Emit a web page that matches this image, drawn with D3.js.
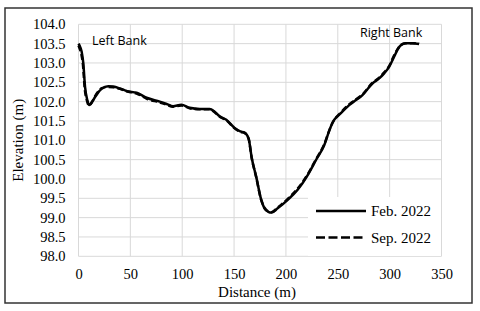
<!DOCTYPE html>
<html>
<head>
<meta charset="utf-8">
<script src="https://cdn.jsdelivr.net/npm/d3@7"></script>
<style>
body { margin: 0; background: #fff; }
svg text { fill: #000; }
</style>
</head>
<body>
<svg width="480" height="311"></svg>
<script>
// cross section survey, distance (m) vs elevation (m)
var febDist = [0, 1, 3, 4.6, 6.3, 8.5, 10.4, 13, 16, 19, 22.3, 28.7, 33.5, 40, 47, 56, 65.6, 78.4, 85, 91.2, 99.2, 107.2, 117, 126.4, 131.3, 136.1, 142.5, 150.5, 156, 160.1, 164, 167, 171.3, 176.2, 179.3, 183, 186, 192, 201.7, 211.3, 221, 229, 237, 241.8, 245, 253, 261, 267.5, 273.8, 283.4, 289.9, 294.7, 299.5, 304.3, 307.5, 310.8, 315.6, 322, 328.4];
var febElev = [103.5, 103.45, 103.3, 103.0, 102.38, 102.04, 101.91, 101.99, 102.12, 102.24, 102.33, 102.4, 102.39, 102.34, 102.27, 102.23, 102.1, 102.0, 101.94, 101.88, 101.92, 101.84, 101.81, 101.81, 101.74, 101.62, 101.53, 101.32, 101.23, 101.2, 101.05, 100.55, 100.06, 99.46, 99.24, 99.15, 99.13, 99.24, 99.46, 99.72, 100.1, 100.49, 100.88, 101.25, 101.46, 101.7, 101.91, 102.04, 102.17, 102.47, 102.6, 102.73, 102.9, 103.16, 103.34, 103.46, 103.51, 103.51, 103.49];

var sepDist = [0, 1, 2.8, 4.3, 6, 8.2, 10.2, 13, 16, 19, 22.5, 28.5, 33.5, 40, 47.5, 56, 65.5, 78, 85, 91, 99, 107, 117, 126.5, 131.5, 136.5, 142.5, 150.5, 156, 160, 164, 167, 171.3, 176, 179.5, 183, 186, 192, 201.5, 211, 221, 229, 237, 242, 245.5, 253, 261, 267.5, 274, 283.5, 290, 294.5, 299.5, 304, 307.5, 311, 315.5, 322, 328.4];
var sepElev = [103.45, 103.38, 103.22, 102.95, 102.34, 102.02, 101.9, 101.99, 102.14, 102.26, 102.35, 102.38, 102.37, 102.33, 102.26, 102.21, 102.08, 101.98, 101.92, 101.87, 101.9, 101.83, 101.8, 101.8, 101.72, 101.6, 101.52, 101.31, 101.22, 101.19, 101.04, 100.54, 100.05, 99.47, 99.25, 99.16, 99.14, 99.26, 99.48, 99.74, 100.12, 100.51, 100.9, 101.27, 101.48, 101.72, 101.93, 102.06, 102.19, 102.49, 102.62, 102.75, 102.92, 103.18, 103.35, 103.47, 103.51, 103.51, 103.5];

var xTicks = [0, 50, 100, 150, 200, 250, 300, 350];
var yTicks = [98.0, 98.5, 99.0, 99.5, 100.0, 100.5, 101.0, 101.5, 102.0, 102.5, 103.0, 103.5, 104.0];
var seriesNames = ["Feb. 2022", "Sep. 2022"];

var svg = d3.select("svg"),
	plotLeft = 78.5, plotRight = 441.5, plotTop = 24.3, plotBottom = 256.3;

var serif = "'Liberation Serif', 'Times New Roman', serif";
var sans = "'Open Sans', 'Liberation Sans', sans-serif";

// outer frame
svg.append("rect")
	.attr("x", 5).attr("y", 8)
	.attr("width", 467).attr("height", 295)
	.attr("fill", "none")
	.attr("stroke", "#333")
	.attr("stroke-width", 1.5);

var x = d3.scaleLinear().domain([0, 350]).range([plotLeft, plotRight]);
var y = d3.scaleLinear().domain([98, 104]).range([plotBottom, plotTop]);

// grid
svg.append("g").selectAll("line").data(xTicks).enter().append("line")
	.attr("x1", function (d) { return x(d); })
	.attr("x2", function (d) { return x(d); })
	.attr("y1", plotTop).attr("y2", plotBottom)
	.attr("stroke", "#d9d9d9").attr("stroke-width", 1);

svg.append("g").selectAll("line").data(yTicks).enter().append("line")
	.attr("x1", plotLeft).attr("x2", plotRight)
	.attr("y1", function (d) { return y(d); })
	.attr("y2", function (d) { return y(d); })
	.attr("stroke", "#d9d9d9").attr("stroke-width", 1);

// axes (labels only)
var xAxis = svg.append("g")
	.attr("transform", "translate(0," + plotBottom + ")")
	.call(d3.axisBottom(x).tickValues(xTicks).tickSize(0).tickPadding(12).tickFormat(d3.format("d")));
var yAxis = svg.append("g")
	.attr("transform", "translate(" + plotLeft + ",0)")
	.call(d3.axisLeft(y).tickValues(yTicks).tickSize(0).tickPadding(13).tickFormat(d3.format(".1f")));

[xAxis, yAxis].forEach(function (g) {
	g.select(".domain").remove();
	g.selectAll("text")
		.style("font-family", serif)
		.style("font-size", "14.5px")
		.attr("fill", "#000");
});

svg.append("text")
	.attr("x", 257).attr("y", 297)
	.attr("text-anchor", "middle")
	.style("font-family", serif).style("font-size", "15px")
	.text("Distance (m)");

svg.append("text")
	.attr("transform", "translate(23," + ((plotTop + plotBottom) / 2) + ") rotate(-90)")
	.attr("text-anchor", "middle")
	.style("font-family", serif).style("font-size", "15px")
	.text("Elevation (m)");

// lines
var line = d3.line()
	.x(function (d) { return x(d[0]); })
	.y(function (d) { return y(d[1]); })
	.curve(d3.curveMonotoneX);

var feb = d3.zip(febDist, febElev),
	sep = d3.zip(sepDist, sepElev);

svg.append("path")
	.datum(feb)
	.attr("d", line)
	.attr("fill", "none")
	.attr("stroke", "#000")
	.attr("stroke-width", 2.5)
	.attr("stroke-linejoin", "round");

svg.append("path")
	.datum(sep)
	.attr("d", line)
	.attr("fill", "none")
	.attr("stroke", "#000")
	.attr("stroke-width", 2.5)
	.attr("stroke-dasharray", "6,3");

// bank labels
svg.append("text")
	.attr("x", 92).attr("y", 45)
	.style("font-family", sans).style("font-size", "12.5px")
	.text("Left Bank");
svg.append("text")
	.attr("x", 360).attr("y", 37)
	.style("font-family", sans).style("font-size", "12.5px")
	.text("Right Bank");

// legend
var legend = svg.append("g");
legend.append("rect")
	.attr("x", 308).attr("y", 197)
	.attr("width", 133).attr("height", 59)
	.attr("fill", "#fff");

var item = legend.selectAll("g.item").data(seriesNames).enter().append("g")
	.attr("class", "item")
	.attr("transform", function (d, i) { return "translate(0," + (211 + i * 26.5) + ")"; });

item.append("line")
	.attr("x1", 316).attr("x2", 366)
	.attr("stroke", "#000").attr("stroke-width", 2.5)
	.attr("stroke-dasharray", function (d, i) { return i ? "9,3.5" : null; });

item.append("text")
	.attr("x", 371).attr("y", 5)
	.style("font-family", serif).style("font-size", "15px")
	.text(function (d) { return d; });
</script>
</body>
</html>
